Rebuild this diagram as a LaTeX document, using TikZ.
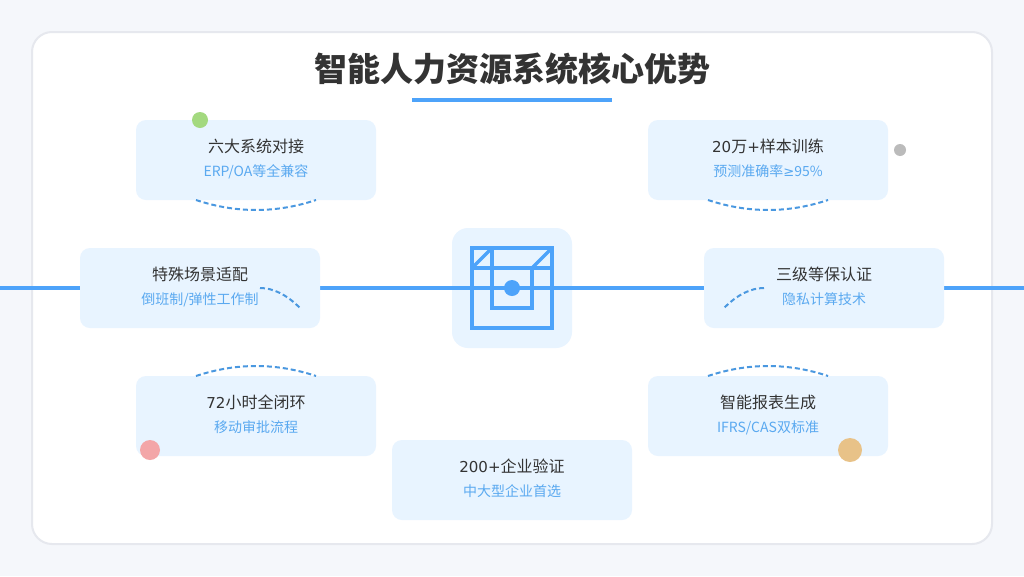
\documentclass[tikz,border=0pt]{standalone}
\usepackage{fontspec}
\setmainfont{Noto Sans CJK SC}
\newfontfamily\numfont[Scale=0.94]{DejaVu Sans}
\usetikzlibrary{arrows.meta}

\definecolor{pagebg}{HTML}{F5F7FB}
\definecolor{panelline}{HTML}{E6E8EE}
\definecolor{cardfill}{HTML}{E8F4FF}
\definecolor{mainblue}{HTML}{4DA3FA}
\definecolor{arcblue}{HTML}{4A98E0}
\definecolor{subblue}{HTML}{5AA9F0}
\definecolor{inkgray}{HTML}{333333}
\definecolor{dotgreen}{HTML}{A3D97F}
\definecolor{dotgray}{HTML}{BBBBBB}
\definecolor{dotpink}{HTML}{F3A6A8}
\definecolor{dotorange}{HTML}{E8C288}

\tikzset{
	card/.style={fill=cardfill,rounded corners=10pt,minimum width=240pt,minimum height=80pt,
		inner sep=0pt,outer sep=0pt},
	cardhead/.style={anchor=base,inner sep=0pt,text=inkgray,font=\fontsize{16}{20}\selectfont},
	cardsub/.style={anchor=base,inner sep=0pt,text=subblue,font=\fontsize{14}{18}\selectfont},
	arcline/.style={draw=arcblue,line width=2pt,dash pattern=on 5pt off 3pt},
	iconline/.style={draw=mainblue,line width=3.4pt},
	dot/.style={circle,inner sep=0pt,outer sep=0pt}
}

\begin{document}
\begin{tikzpicture}[x=1pt,y=-1pt]
		\useasboundingbox (0,0) rectangle (1024,576);
		\fill[pagebg] (0,0) rectangle (1024,576);
		\draw[panelline,line width=2pt,fill=white,rounded corners=20pt] (32,32) rectangle (992,544);

		\node[font=\fontsize{33}{36}\selectfont\bfseries,text=inkgray] (heading) at (512,69) {智能人力资源系统核心优势};
		\fill[mainblue] (412,98) rectangle (612,102);

		% centre block and axis
		\node[fill=cardfill,rounded corners=16pt,minimum width=120pt,minimum height=120pt,inner sep=0pt,outer sep=0pt] (hub) at (512,288) {};
		\coordinate (axisl) at (0,288);
		\coordinate (axisr) at (1024,288);
		\draw[iconline] (axisl) -- (axisr);

		\begin{scope}[iconline]
			\draw (472,248) rectangle (552,328);
			\draw (492,248) -- (492,308) -- (532,308) -- (532,268);
			\draw (472,268) -- (552,268);
			\draw (472,268) -- (492,248);
			\draw (532,268) -- (552,248);
		\end{scope}
		\node[dot,fill=mainblue,minimum size=16pt] (hubdot) at (512,288) {};

		\node[card] (erp) at (256,160) {};
		\node[card] (train) at (768,160) {};
		\node[card] (shift) at (200,288) {};
		\node[card] (cert) at (824,288) {};
		\node[card] (flow) at (256,416) {};
		\node[card] (report) at (768,416) {};
		\node[card] (users) at (512,480) {};

		\node[cardhead] (erphead) at (256,152) {六大系统对接};
		\node[cardsub] (erpsub) at (256,176) {ERP/OA等全兼容};
		\node[cardhead] (trainhead) at (768,152) {{\numfont 20}万{\numfont +}样本训练};
		\node[cardsub] (trainsub) at (768,176) {预测准确率{\numfont ≥}95\%};
		\node[cardhead] (shifthead) at (200,280) {特殊场景适配};
		\node[cardsub] (shiftsub) at (200,304) {倒班制/弹性工作制};
		\node[cardhead] (certhead) at (824,280) {三级等保认证};
		\node[cardsub] (certsub) at (824,304) {隐私计算技术};
		\node[cardhead] (flowhead) at (256,408) {{\numfont 72}小时全闭环};
		\node[cardsub] (flowsub) at (256,432) {移动审批流程};
		\node[cardhead] (reporthead) at (768,408) {智能报表生成};
		\node[cardsub] (reportsub) at (768,432) {IFRS/CAS双标准};
		\node[cardhead] (usershead) at (512,472) {{\numfont 200+}企业验证};
		\node[cardsub] (userssub) at (512,496) {中大型企业首选};

		\node[dot,fill=dotgreen,minimum size=16pt] (greendot) at (200,120) {};
		\node[dot,fill=dotgray,minimum size=12pt] (graydot) at (900,150) {};
		\node[dot,fill=dotpink,minimum size=20pt] (pinkdot) at (150,450) {};
		\node[dot,fill=dotorange,minimum size=24pt] (orangedot) at (850,450) {};

		\coordinate (erpa) at (196,200);
		\coordinate (erpb) at (316,200);
		\coordinate (traina) at (708,200);
		\coordinate (trainb) at (828,200);
		\coordinate (flowa) at (196,376);
		\coordinate (flowb) at (316,376);
		\coordinate (reporta) at (708,376);
		\coordinate (reportb) at (828,376);
		\coordinate (shifta) at (260,288);
		\coordinate (shiftb) at (300,308);
		\coordinate (certa) at (764,288);
		\coordinate (certb) at (724,308);

		\draw[arcline] (erpa) .. controls (236,213.3) and (276,213.3) .. (erpb);
		\draw[arcline] (traina) .. controls (748,213.3) and (788,213.3) .. (trainb);
		\draw[arcline] (flowa) .. controls (236,362.7) and (276,362.7) .. (flowb);
		\draw[arcline] (reporta) .. controls (748,362.7) and (788,362.7) .. (reportb);
		\draw[arcline] (shifta) .. controls (273.3,288) and (286.7,294.7) .. (shiftb);
		\draw[arcline] (certa) .. controls (750.7,288) and (737.3,294.7) .. (certb);
		\end{tikzpicture}
\end{document}
